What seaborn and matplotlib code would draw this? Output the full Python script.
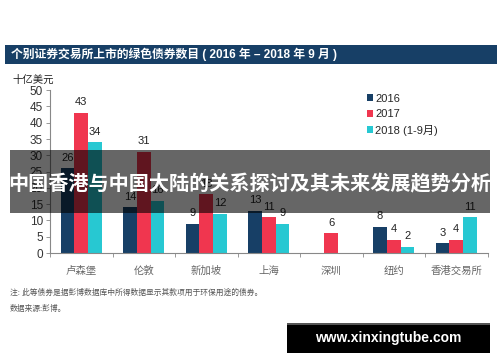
import matplotlib
matplotlib.use("Agg")
import matplotlib.pyplot as plt
import seaborn as sns
import pandas as pd
import numpy as np
from matplotlib.patches import Rectangle

sns.set_theme(style="white")
plt.rcParams['font.family'] = ['Liberation Sans', 'Noto Sans CJK SC', 'DejaVu Sans']

categories = ["卢森堡", "伦敦", "新加坡", "上海", "深圳", "纽约", "香港交易所"]
series_names = ["2016", "2017", "2018 (1-9月)"]
v2016 = [26, 14, 9, 13, 0, 8, 3]
v2017 = [43, 31, 18, 11, 6, 4, 4]
v2018 = [34, 16, 12, 9, 0, 2, 11]
colors = ["#173f66", "#f0364f", "#27c8d2"]
yticks = [0, 5, 10, 15, 20, 25, 30, 35, 40, 45, 50]

rows = []
for name, vals in zip(series_names, [v2016, v2017, v2018]):
    for c, v in zip(categories, vals):
        rows.append({"交易所": c, "年份": name, "值": v})
df = pd.DataFrame(rows)

fig = plt.figure(figsize=(5, 3.62), dpi=100)
ax = fig.add_axes([0.1, 0.301, 0.875, 0.45])

sns.barplot(data=df, x="交易所", y="值", hue="年份", order=categories,
            hue_order=series_names, palette=colors, width=0.66, gap=0,
            saturation=1, ax=ax, errorbar=None, linewidth=0)

for cont, vals in zip(ax.containers, [v2016, v2017, v2018]):
    labels = [str(v) if v > 0 else "" for v in vals]
    ax.bar_label(cont, labels=labels, padding=4, fontsize=8, color="#222222")

ax.set_ylim(0, 50)
ax.set_yticks(yticks)
ax.set_yticklabels([str(t) for t in yticks], fontsize=8.5, color="#333333")
ax.set_xlim(-0.5, 6.5)
ax.set_xticks(np.arange(-0.5, 7, 1))
ax.set_xticklabels([])
ax.set_xticks(np.arange(7), minor=True)
ax.set_xticklabels(categories, minor=True, fontsize=7.5, color="#666666")
ax.tick_params(axis="x", which="major", length=3, width=0.6, color="#888888", direction="out", bottom=True)
ax.tick_params(axis="x", which="minor", length=0, pad=9)
ax.tick_params(axis="y", length=3, width=0.6, color="#888888", direction="out", left=True, pad=2)
ax.set_xlabel("")
ax.set_ylabel("")
for s in ["top", "right"]:
    ax.spines[s].set_visible(False)
for s in ["left", "bottom"]:
    ax.spines[s].set_color("#888888")
    ax.spines[s].set_linewidth(0.8)

handles, labels = ax.get_legend_handles_labels()
ax.legend(handles, labels, loc="upper left", bbox_to_anchor=(0.722, 0.757),
          bbox_transform=fig.transFigure, frameon=False, fontsize=8,
          handlelength=0.6, handleheight=0.6, handletextpad=0.2, labelspacing=0.5,
          borderpad=0)

# title bar
fig.patches.append(Rectangle((0.01, 1 - 64 / 362), 0.984, 19 / 362, transform=fig.transFigure,
                             facecolor="#173f66", edgecolor="none", zorder=0))
fig.text(0.022, 1 - 54.5 / 362, "个别证券交易所上市的绿色债券数目 ( 2016 年 – 2018 年 9 月 )",
         color="white", fontsize=8.5, fontweight="bold", va="center", ha="left")

fig.text(0.024, 1 - 80 / 362, "十亿美元", fontsize=7.5, color="#222222", va="center")

fig.text(0.02, 1 - 293 / 362, "注: 此等债券是据彭博数据库中所得数据显示其款项用于环保用途的债券。",
         fontsize=5.6, color="#555555", va="center")
fig.text(0.02, 1 - 309 / 362, "数据来源:彭博。", fontsize=5.6, color="#555555", va="center")

# overlay banner
fig.patches.append(Rectangle((0.02, 1 - 213 / 362), 0.96, 63 / 362, transform=fig.transFigure,
                             facecolor="black", alpha=0.6, edgecolor="none", zorder=10))
fig.text(0.5, 1 - 184 / 362, "中国香港与中国大陆的关系探讨及其未来发展趋势分析",
         fontsize=14.5, fontweight="bold", color="white", ha="center", va="center", zorder=11)

# watermark
fig.patches.append(Rectangle((0.574, 1 - 353 / 362), 0.406, 30 / 362, transform=fig.transFigure,
                             facecolor="black", edgecolor="none", zorder=10))
fig.patches.append(Rectangle((0.574, 1 - 325 / 362), 0.406, 2 / 362, transform=fig.transFigure,
                             facecolor="#555555", edgecolor="none", zorder=10))
fig.text(0.777, 1 - 338 / 362, "www.xinxingtube.com", fontsize=10, fontweight="bold",
         color="white", ha="center", va="center", zorder=11)

fig.savefig("out.png", dpi=100)
